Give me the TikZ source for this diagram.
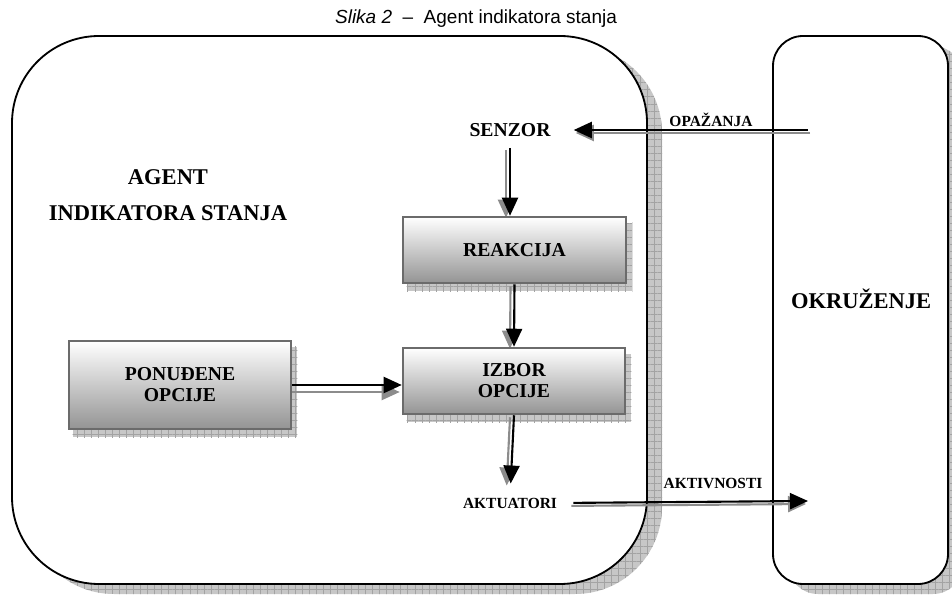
\documentclass[tikz,border=0pt]{standalone}
\usepackage{fontspec}
\setmainfont{Liberation Serif}
\newfontfamily\titlefont{Liberation Sans}
\usetikzlibrary{arrows.meta,patterns.meta,calc}
\pgfdeclarelayer{frames}
\pgfdeclarelayer{shades}
\pgfsetlayers{frames,shades,main}
% one drawing unit = one pixel of a 952 x 596 canvas
\newcommand{\pxu}{0.025cm}
\tikzset{
  hatchshade/.style={fill=black!22,
    postaction={pattern={Hatch[angle=0,distance=5pt,line width=0.45pt]},pattern color=black!36}},
  frame/.style={draw=black, line width=1.3pt, fill=white},
  optbox/.style={draw=black!58, line width=1.8pt, top color=white, bottom color=black!42,
    align=center, font=\bfseries\fontsize{14}{15}\selectfont, inner sep=0pt},
  biglabel/.style={font=\bfseries\fontsize{16}{26}\selectfont, align=center, inner sep=0pt},
  midlabel/.style={font=\bfseries\fontsize{14}{16}\selectfont, inner sep=0pt},
  smalllabel/.style={font=\bfseries\fontsize{11}{13}\selectfont, inner sep=0pt},
  tipshape/.style={-{Triangle[length=0.45cm,width=0.4cm]}},
  arrmain/.style={draw=black, line width=1.5pt, tipshape},
  arrshade/.style={draw=black!45, line width=1.5pt, tipshape},
}
\begin{document}
\begin{tikzpicture}[x=\pxu, y=-\pxu]
\useasboundingbox (0,0) rectangle (952,596);

% caption
\node[font=\titlefont\fontsize{13.5}{15}\selectfont, inner sep=0pt] (title) at (476,19)
  {\textit{Slika 2}\ \ –\ \ Agent indikatora stanja};

% the two large frames with their hatched shadows
\begin{pgfonlayer}{frames}
  \path[hatchshade, rounded corners=87*\pxu] (27,46) rectangle (662,594);
  \path[frame, rounded corners=87*\pxu] (12,36) rectangle (647,584);
  \path[hatchshade, rounded corners=30*\pxu] (788,46) rectangle (963,594);
  \path[frame, rounded corners=30*\pxu] (773,36) rectangle (948,584);
\end{pgfonlayer}

% labels
\node[biglabel] (agentlbl) at (168,195) {AGENT\\INDIKATORA STANJA};
\node[biglabel] (okr) at (861,299) {OKRUŽENJE};
\node[midlabel] (senzor) at (510,130) {SENZOR};
\node[smalllabel] (akt) at (510,503) {AKTUATORI};
\node[smalllabel] (opazlbl) at (711,120) {OPAŽANJA};
\node[smalllabel] (aktivlbl) at (713,483) {AKTIVNOSTI};

% processing blocks
\node[optbox, minimum width=223*\pxu, minimum height=66*\pxu] (reak) at (514.5,250) {REAKCIJA};
\node[optbox, minimum width=222*\pxu, minimum height=66*\pxu] (izbor) at (514,381) {IZBOR\\OPCIJE};
\node[optbox, minimum width=222*\pxu, minimum height=88*\pxu] (pon) at (180,385) {PONUĐENE\\OPCIJE};

% free ends inside the environment frame
\coordinate (opin) at (808,130);
\coordinate (aktout) at (808,501);

\begin{pgfonlayer}{shades}
  % block shadows
  \foreach \b in {reak,izbor,pon}
    \path[hatchshade] ([shift={(5,7)}]\b.south west) rectangle ([shift={(5,7)}]\b.north east);

  % percepts: environment -> sensor
  \draw[arrshade, shorten >=23*\pxu] ([shift={(2,3)}]opin) -- ([shift={(2,3)}]senzor.east);
  \draw[arrmain, shorten >=23*\pxu] (opin) -- (senzor.east);

  % sensor -> reaction
  \draw[arrshade, shorten <=11*\pxu] ([shift={(-4,2)}]senzor.south) -- ([shift={(-4,2)}]senzor.south |- reak.north);
  \draw[arrmain, shorten <=11*\pxu] (senzor.south) -- (senzor.south |- reak.north);

  % reaction -> choice
  \draw[arrshade] ([shift={(-4,2)}]reak.south) -- ([shift={(-4,2)}]izbor.north);
  \draw[arrmain] (reak.south) -- (izbor.north);

  % offered options -> choice
  \draw[arrshade] ([shift={(-2,7)}]pon.east) -- ([shift={(-2,7)}]pon.east -| izbor.west);
  \draw[arrmain] (pon.east) -- (pon.east -| izbor.west);

  % choice -> actuators
  \draw[arrshade, shorten >=14*\pxu] ([shift={(-4,2)}]izbor.south) -- ([shift={(-4,2)}]akt.north);
  \draw[arrmain, shorten >=14*\pxu] (izbor.south) -- (akt.north);

  % actions: actuators -> environment
  \draw[arrshade, shorten <=16*\pxu] ([shift={(-2,3)}]akt.east) -- ([shift={(-2,3)}]aktout);
  \draw[arrmain, shorten <=16*\pxu] (akt.east) -- (aktout);
\end{pgfonlayer}
\end{tikzpicture}
\end{document}
